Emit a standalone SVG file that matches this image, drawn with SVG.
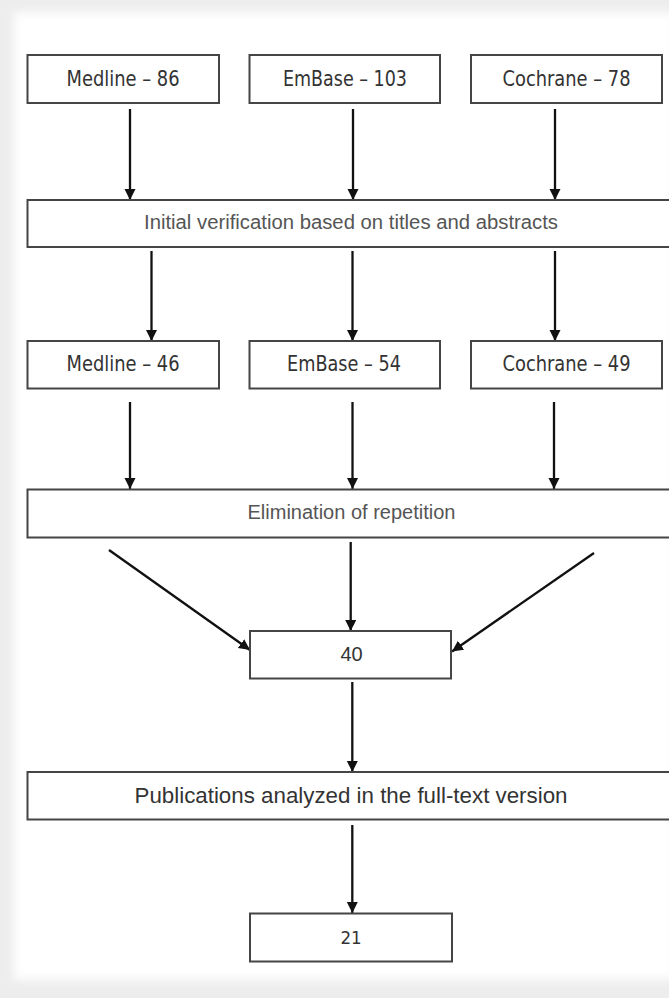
<svg xmlns="http://www.w3.org/2000/svg" width="669" height="998" viewBox="0 0 669 998">
  <style>
    .box { fill: #ffffff; stroke: #454545; stroke-width: 2; }
    .conn { stroke: #111111; stroke-width: 2.3; fill: none; marker-end: url(#arrow); }
    .dv { font-family: "DejaVu Sans Condensed", "DejaVu Sans", sans-serif; font-size: 20.5px; fill: #333333; text-anchor: middle; }
    .ar { font-family: "Liberation Sans", Arial, sans-serif; font-size: 20px; fill: #555555; text-anchor: middle; }
    .ar2 { font-family: "Liberation Sans", Arial, sans-serif; font-size: 22px; fill: #333333; text-anchor: middle; }
  </style>
  <defs>
    <marker id="arrow" markerUnits="userSpaceOnUse" markerWidth="13" markerHeight="13" refX="11" refY="5.5" orient="auto">
      <path d="M0,0 L11,5.5 L0,11 z" fill="#111111"/>
    </marker>
    <filter id="soft" x="-5%" y="-5%" width="110%" height="110%">
      <feGaussianBlur stdDeviation="5"/>
    </filter>
  </defs>

  <rect x="0" y="0" width="669" height="998" fill="#ededed"/>
  <rect x="14" y="12" width="660" height="968" fill="#ffffff" filter="url(#soft)"/>

  <g id="connectors">
    <line class="conn" x1="130" y1="109" x2="130" y2="200"/>
    <line class="conn" x1="353" y1="109" x2="353" y2="200"/>
    <line class="conn" x1="555" y1="109" x2="555" y2="200"/>

    <line class="conn" x1="151.5" y1="251" x2="151.5" y2="341"/>
    <line class="conn" x1="352.5" y1="251" x2="352.5" y2="341"/>
    <line class="conn" x1="555" y1="251" x2="555" y2="341"/>

    <line class="conn" x1="130" y1="402" x2="130" y2="489"/>
    <line class="conn" x1="352.5" y1="402" x2="352.5" y2="489"/>
    <line class="conn" x1="554" y1="402" x2="554" y2="489"/>

    <line class="conn" x1="109" y1="550" x2="250" y2="650"/>
    <line class="conn" x1="350.7" y1="542" x2="350.7" y2="631"/>
    <line class="conn" x1="594" y1="553" x2="452" y2="651.5"/>

    <line class="conn" x1="352.3" y1="682" x2="352.3" y2="772"/>
    <line class="conn" x1="352.3" y1="825" x2="352.3" y2="913"/>
  </g>

  <g id="medline86">
    <rect class="box" x="27.5" y="55" width="191.5" height="48"/>
    <text class="dv" x="123" y="85.5" textLength="113" lengthAdjust="spacingAndGlyphs">Medline – 86</text>
  </g>
  <g id="embase103">
    <rect class="box" x="249.5" y="55" width="190.5" height="48"/>
    <text class="dv" x="345" y="85.5" textLength="124" lengthAdjust="spacingAndGlyphs">EmBase – 103</text>
  </g>
  <g id="cochrane78">
    <rect class="box" x="471" y="55" width="191" height="48"/>
    <text class="dv" x="566.5" y="85.5" textLength="128" lengthAdjust="spacingAndGlyphs">Cochrane – 78</text>
  </g>

  <g id="initial">
    <rect class="box" x="27.5" y="200" width="660" height="47"/>
    <text class="ar" x="351" y="229" textLength="414" lengthAdjust="spacingAndGlyphs">Initial verification based on titles and abstracts</text>
  </g>

  <g id="medline46">
    <rect class="box" x="27.5" y="341" width="191.5" height="47.5"/>
    <text class="dv" x="123" y="371" textLength="113" lengthAdjust="spacingAndGlyphs">Medline – 46</text>
  </g>
  <g id="embase54">
    <rect class="box" x="249.5" y="341" width="190.5" height="47.5"/>
    <text class="dv" x="344" y="371" textLength="114" lengthAdjust="spacingAndGlyphs">EmBase – 54</text>
  </g>
  <g id="cochrane49">
    <rect class="box" x="471" y="341" width="191" height="47.5"/>
    <text class="dv" x="566.5" y="371" textLength="128" lengthAdjust="spacingAndGlyphs">Cochrane – 49</text>
  </g>

  <g id="elimination">
    <rect class="box" x="27.5" y="489.5" width="660" height="48"/>
    <text class="ar" x="351.5" y="519" textLength="208" lengthAdjust="spacingAndGlyphs">Elimination of repetition</text>
  </g>

  <g id="n40">
    <rect class="box" x="250" y="631" width="201" height="47.5"/>
    <text class="ar" x="351.5" y="661" style="fill:#333333">40</text>
  </g>

  <g id="publications">
    <rect class="box" x="27.5" y="772" width="660" height="47.5"/>
    <text class="ar2" x="351" y="802.5" textLength="433" lengthAdjust="spacingAndGlyphs">Publications analyzed in the full-text version</text>
  </g>

  <g id="n21">
    <rect class="box" x="250" y="913.5" width="202" height="48"/>
    <text class="dv" x="351" y="944" style="font-size:18.5px">21</text>
  </g>
</svg>
